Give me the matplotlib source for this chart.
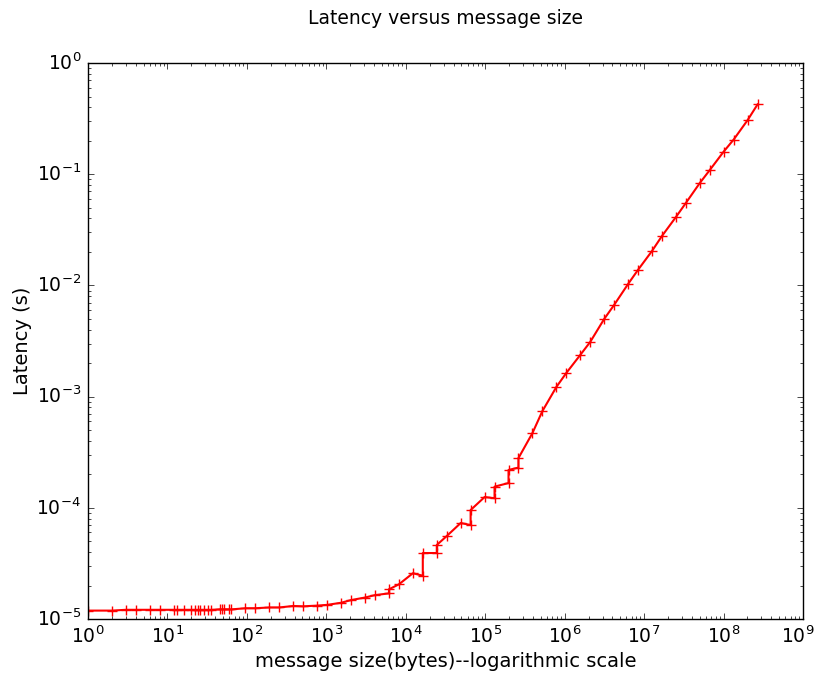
import matplotlib
matplotlib.use("Agg")
import matplotlib.pyplot as plt
from matplotlib.transforms import ScaledTranslation

# message sizes in bytes; repeated sizes carry a second measurement
sizes = [1, 2, 3, 4, 6, 8, 12, 13, 16, 20, 22, 24, 26, 29, 32, 35, 46, 48, 52, 60, 64,
         96, 128, 192, 256, 384, 512, 768, 1024, 1536, 2048, 3072, 4096,
         6144, 6144, 8192, 12288, 16384, 16384, 24576, 24576, 32768, 49152,
         65536, 65536, 98304, 131072, 131072, 196608, 196608, 262144, 262144,
         393216, 524288, 786432, 1048576, 1572864, 2097152, 3145728, 4194304,
         6291456, 8388608, 12582912, 16777216, 25165824, 33554432, 50331648,
         67108864, 100663296, 134217728, 201326592, 268435456]

# measured latency in seconds
latency = [1.19e-5, 1.19e-5, 1.21e-5, 1.21e-5, 1.21e-5, 1.21e-5, 1.21e-5, 1.21e-5,
           1.21e-5, 1.21e-5, 1.21e-5, 1.21e-5, 1.21e-5, 1.21e-5, 1.21e-5, 1.21e-5,
           1.22e-5, 1.22e-5, 1.22e-5, 1.22e-5, 1.22e-5,
           1.25e-5, 1.25e-5, 1.27e-5, 1.27e-5, 1.31e-5, 1.30e-5, 1.32e-5, 1.34e-5,
           1.40e-5, 1.48e-5, 1.56e-5, 1.64e-5,
           1.70e-5, 1.85e-5, 2.05e-5, 2.58e-5, 2.45e-5, 3.92e-5, 3.92e-5, 4.63e-5,
           5.57e-5, 7.30e-5,
           7.00e-5, 9.55e-5, 1.25e-4, 1.22e-4, 1.55e-4, 1.67e-4, 2.19e-4, 2.30e-4, 2.80e-4,
           4.70e-4, 7.40e-4, 1.22e-3, 1.63e-3, 2.37e-3, 3.10e-3, 4.99e-3, 6.67e-3,
           1.03e-2, 1.38e-2, 2.04e-2, 2.78e-2, 4.12e-2, 5.51e-2, 8.34e-2,
           0.109, 0.160, 0.205, 0.307, 0.425]

x_decades = [10.0 ** k for k in range(10)]

plt.style.use("classic")
plt.rcParams["figure.facecolor"] = "white"

fig = plt.figure(figsize=(8.18, 6.8), dpi=100)
ax = fig.add_axes([0.1076, 0.0897, 0.874, 0.8176])

ax.loglog(sizes, latency, "r+-", linewidth=1.5, markersize=7.5, markeredgewidth=1.0)

ax.set_xlim(1, 1e9)
ax.set_ylim(1e-5, 1)
ax.set_xticks(x_decades)
ax.set_title("Latency versus message size", fontsize=13.5, y=1.057)
ax.set_xlabel("message size(bytes)--logarithmic scale", fontsize=14, labelpad=3)
ax.set_ylabel("Latency (s)", fontsize=14, labelpad=3)
ax.tick_params(labelsize=13.5, pad=5)

# keep the last x label inside the figure edge
fig.canvas.draw()
last = ax.xaxis.get_major_ticks()[-1].label1
last.set_transform(last.get_transform() + ScaledTranslation(-4 / 72, 0, fig.dpi_scale_trans))

fig.savefig("out.png", dpi=100, facecolor="white")
